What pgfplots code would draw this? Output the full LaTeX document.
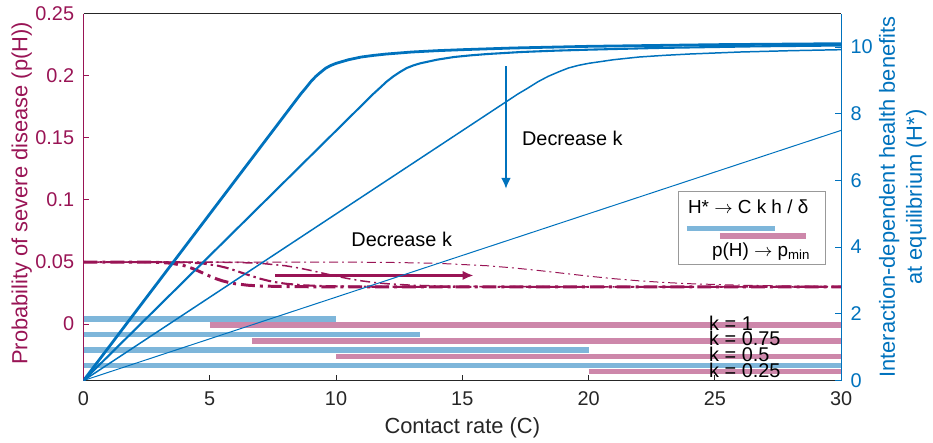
\documentclass[border=0pt]{standalone}
\usepackage{fontspec}
\setmainfont{Liberation Sans}
\usepackage{pgfplots}
\pgfplotsset{compat=1.18}
\usetikzlibrary{arrows.meta}

\definecolor{pred}{RGB}{153,20,85}
\definecolor{hblue}{RGB}{0,114,189}
\definecolor{barblue}{RGB}{126,182,218}
\definecolor{barpink}{RGB}{205,135,170}
\definecolor{axgray}{RGB}{38,38,38}

\pgfplotsset{
  base/.style={
    scale only axis, width=381pt, height=184.5pt,
    xmin=0, xmax=30,
    tick align=inside, major tick length=3pt,
    every tick/.style={line width=0.5pt},
    ticklabel style={font=\fontsize{10}{12}\selectfont},
    /pgf/number format/assume math mode=true,
    axis line style={line width=0.5pt},
  },
  dd1/.style={pred, line width=1.5pt, dash pattern=on 7pt off 2.5pt on 1.5pt off 2.5pt},
  dd2/.style={pred, line width=1.05pt, dash pattern=on 6pt off 2pt on 1.2pt off 2pt},
  dd3/.style={pred, line width=0.75pt, dash pattern=on 5pt off 2pt on 1pt off 2pt},
  dd4/.style={pred, line width=0.5pt, dash pattern=on 4.5pt off 2pt on 1pt off 2pt},
  bar/.style={line width=2.75pt},
}

\begin{document}
\begin{tikzpicture}
\path (-42pt,-31pt) rectangle (424.5pt,190pt);

% left axis: p(H) and the k bars
\begin{axis}[base,
  axis x line*=bottom, axis y line*=left,
  tick align=inside,
  ymin=-0.0454, ymax=0.25,
  xtick={0,5,...,30},
  ytick={0,0.05,0.1,0.15,0.2,0.25},
  yticklabels={0,0.05,0.1,0.15,0.2,0.25},
  x axis line style={axgray}, xtick style={axgray},
  xticklabel style={color=axgray, yshift=-2pt},
  y axis line style={pred}, ytick style={pred},
  yticklabel style={color=pred, xshift=-1.2pt},
  xlabel={Contact rate (C)},
  ylabel={Probability of severe disease (p(H))},
  every axis x label/.style={at={(axis description cs:0.5,-0.1)}, anchor=north, inner sep=0pt,
    font=\fontsize{11}{13}\selectfont, color=axgray},
  every axis y label/.style={at={(axis description cs:-0.0814,0.51)}, rotate=90, anchor=center,
    font=\fontsize{11}{13}\selectfont, color=pred},
]
% bars: blue = linear regime of H*, pink = p(H) at p_min
\addplot[bar, barblue] coordinates {(0,0.0042) (10,0.0042)};
\addplot[bar, barpink] coordinates {(5,-0.0006) (30,-0.0006)};
\addplot[bar, barblue] coordinates {(0,-0.0085) (13.33,-0.0085)};
\addplot[bar, barpink] coordinates {(6.67,-0.0134) (30,-0.0134)};
\addplot[bar, barblue] coordinates {(0,-0.021) (20,-0.021)};
\addplot[bar, barpink] coordinates {(10,-0.0262) (30,-0.0262)};
\addplot[bar, barblue] coordinates {(0,-0.0335) (30,-0.0335)};
\addplot[bar, barpink] coordinates {(20,-0.0382) (30,-0.0382)};

% p(H), k = 0.25, 0.5, 0.75, 1
\addplot[dd4] coordinates {(0,0.05) (10,0.04995) (12,0.04974) (14,0.049) (16,0.047) (17,0.04532)
  (18,0.04324) (19,0.04094) (20,0.03864) (21,0.03658) (22,0.03488) (23,0.03355) (24,0.03256)
  (26,0.03134) (28,0.03071) (30,0.03039)};
\addplot[dd3] coordinates {(0,0.05) (5,0.04995) (6,0.04974) (7,0.049) (8,0.047) (8.5,0.04532)
  (9,0.04324) (9.5,0.04094) (10,0.03864) (10.5,0.03658) (11,0.03488) (11.5,0.03355) (12,0.03256)
  (13,0.03134) (14,0.03071) (16,0.03022) (18,0.03008) (20,0.03003) (30,0.03)};
\addplot[dd2] coordinates {(0,0.05) (3.33,0.04995) (4,0.04974) (4.67,0.049) (5.33,0.047) (5.67,0.04532)
  (6,0.04324) (6.33,0.04094) (6.67,0.03864) (7,0.03658) (7.33,0.03488) (7.67,0.03355) (8,0.03256)
  (8.67,0.03134) (9.33,0.03071) (10.67,0.03022) (12,0.03008) (13.33,0.03003) (30,0.03)};
\addplot[dd1] coordinates {(0,0.05) (2.5,0.04995) (3,0.04974) (3.5,0.049) (4,0.047) (4.25,0.04532)
  (4.5,0.04324) (4.75,0.04094) (5,0.03864) (5.25,0.03658) (5.5,0.03488) (5.75,0.03355) (6,0.03256)
  (6.5,0.03134) (7,0.03071) (8,0.03022) (9,0.03008) (10,0.03003) (30,0.03)};

\draw[pred, line width=1.2pt, -{Latex[length=5.5pt,width=4.7pt]}]
  (axis cs:7.6,0.0392) -- (axis cs:15.45,0.0392);
\node[font=\fontsize{10}{12}\selectfont] at (axis cs:12.6,0.068) {Decrease k};

\begin{scope}[every node/.style={anchor=west, inner sep=0pt, font=\fontsize{10}{12}\selectfont}]
\node at (axis cs:24.76,0.001) {k = 1};
\node at (axis cs:24.76,-0.0118) {k = 0.75};
\node at (axis cs:24.76,-0.0246) {k = 0.5};
\node at (axis cs:24.76,-0.0374) {k = 0.25};
\end{scope}
\end{axis}

% right axis: H*
\begin{axis}[base, name=ax2,
  axis x line=none, axis y line*=right,
  tick align=inside,
  ymin=0, ymax=11,
  ytick={0,2,...,10},
  y axis line style={hblue}, ytick style={hblue},
  yticklabel style={color=hblue, xshift=1.2pt},
  ylabel={Interaction-dependent health benefits\\at equilibrium (H*)},
  every axis y label/.style={at={(axis description cs:1.0814,0.5)}, rotate=90, anchor=center,
    align=center, font=\fontsize{11}{13.5}\selectfont, color=hblue},
]
\addplot[hblue, line width=0.5pt] coordinates {(0,0) (30,7.5)};
\addplot[hblue, line width=0.75pt] coordinates {(0,0) (17.2,8.59) (17.6,8.77) (18,8.96) (18.4,9.12)
  (18.8,9.25) (19.2,9.37) (19.6,9.45) (20,9.51) (21,9.62) (22,9.70) (23,9.75) (24,9.79)
  (26,9.85) (28,9.89) (30,9.92)};
\addplot[hblue, line width=1.05pt] coordinates {(0,0) (11.47,8.59) (11.73,8.77) (12,8.96) (12.27,9.12)
  (12.53,9.25) (12.8,9.37) (13.07,9.45) (13.33,9.51) (14,9.62) (14.67,9.70) (15.33,9.75) (16,9.79)
  (17.33,9.85) (18.67,9.89) (20,9.92) (22.67,9.97) (26.67,10.02) (30,10.045)};
\addplot[hblue, line width=1.4pt] coordinates {(0,0) (8.6,8.59) (8.8,8.77) (9,8.96) (9.2,9.12)
  (9.4,9.25) (9.6,9.37) (9.8,9.45) (10,9.51) (10.5,9.62) (11,9.70) (11.5,9.75) (12,9.79)
  (13,9.85) (14,9.89) (15,9.92) (17,9.97) (20,10.02) (25,10.07) (30,10.1)};

\draw[hblue, line width=0.9pt, -{Latex[length=5.5pt,width=5pt]}]
  (axis cs:16.73,9.42) -- (axis cs:16.73,5.75);
\node[font=\fontsize{10}{12}\selectfont] at (axis cs:19.36,7.26) {Decrease k};

% key box
\draw[black!40, fill=white, line width=0.5pt] (axis cs:23.55,3.47) rectangle (axis cs:29.4,5.655);
\addplot[bar, barblue] coordinates {(23.89,4.56) (27.4,4.56)};
\addplot[bar, barpink] coordinates {(25.2,4.33) (28.6,4.33)};
\node[font=\fontsize{9.5}{11}\selectfont] at (axis cs:26.32,5.22) {H* $\rightarrow$ C k h / δ};
\node[font=\fontsize{9.5}{11}\selectfont] at (axis cs:26.84,3.87) {p(H) $\rightarrow$ p\textsubscript{min}};
\end{axis}
\draw[axgray, line width=0.5pt] (ax2.north west) -- (ax2.north east);
\end{tikzpicture}
\end{document}
